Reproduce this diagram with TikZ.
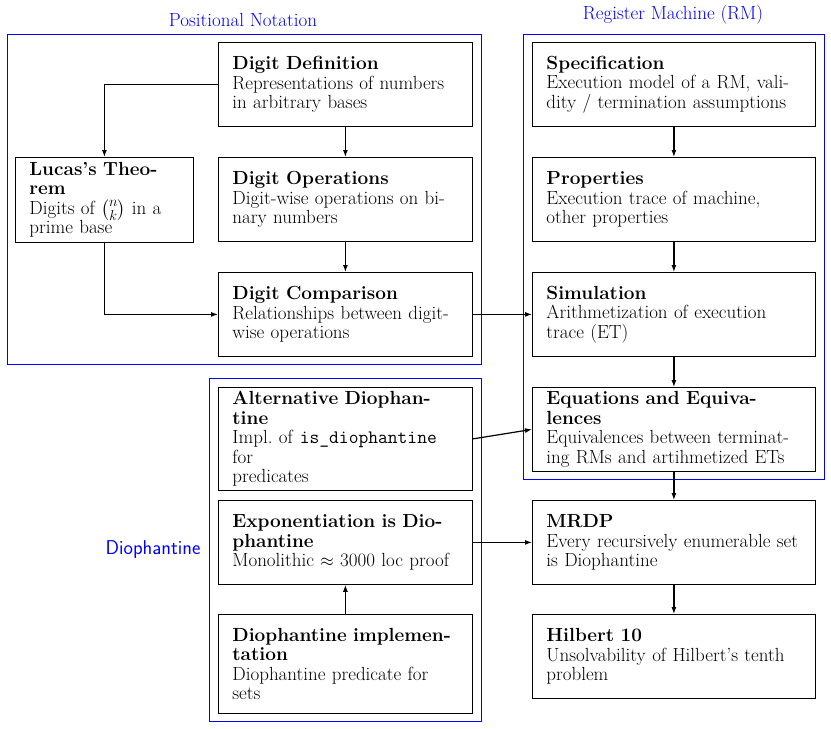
\documentclass[tikz,border=0pt]{standalone}
\usepackage{amsmath}
\usepackage{fontspec}
\usetikzlibrary{arrows.meta}
\begin{document}
\begin{tikzpicture}[x=1pt,y=-1pt,
  bx/.style={draw,line width=0.8pt,rectangle,anchor=north west,inner xsep=14pt,inner ysep=4pt,
    minimum height=84pt,text width=226pt,align=left,font=\fontsize{19}{19.5}\selectfont},
  fr/.style={draw=blue,line width=0.8pt},
  ttl/.style={text=blue,font=\fontsize{19}{20}\selectfont},
  ar/.style={line width=1.2pt,-{Latex[length=7pt,width=5pt]}}]
\useasboundingbox (0,0) rectangle (831,729);
\draw[fr] (7,34) rectangle (481,364);
\draw[fr] (523,34) rectangle (824,479);
\draw[fr] (209,378) rectangle (481,721);
\node[ttl] (t1) at (243,20) {Positional Notation};
\node[ttl] (t2) at (673,15) {Register Machine (RM)};
\node[ttl,font=\sffamily\fontsize{20}{20}\selectfont] (t3) at (153,550) {Diophantine};

\node[bx] (def) at (218,42) {\textbf{Digit Definition}\\Representations of numbers\\in arbitrary bases};
\node[bx] (ops) at (218,157) {\textbf{Digit Operations}\\Digit-wise operations on bi-\\nary numbers};
\node[bx] (cmp) at (218,272) {\textbf{Digit Comparison}\\Relationships between digit-\\wise operations};
\node[bx,text width=150pt,minimum height=85pt] (luc) at (15,157) {\textbf{Lucas's Theorem}\\Digits of $\binom{n}{k}$ in a\\prime base};

\node[bx,text width=255pt] (spec) at (532,42) {\textbf{Specification}\\Execution model of a RM, vali-\\dity / termination assumptions};
\node[bx,text width=255pt] (prop) at (532,157) {\textbf{Properties}\\Execution trace of machine,\\other properties};
\node[bx,text width=255pt] (sim) at (532,272) {\textbf{Simulation}\\Arithmetization of execution\\trace (ET)};
\node[bx,text width=255pt] (eq) at (532,387) {\textbf{Equations and Equivalences}\\Equivalences between terminat-\\ing RMs and artihmetized ETs};
\node[bx,text width=255pt] (mrdp) at (532,500) {\textbf{MRDP}\\Every recursively enumerable set\\is Diophantine};
\node[bx,text width=255pt] (hil) at (532,614) {\textbf{Hilbert 10}\\Unsolvability of Hilbert's tenth\\problem};

\node[bx] (alt) at (218,387) {\textbf{Alternative Diophantine}\\Impl.\ of \texttt{is\_diophantine} for\\predicates};
\node[bx] (exp) at (218,500) {\textbf{Exponentiation is Dio-}\\\textbf{phantine}\\Monolithic $\approx$ 3000 loc proof};
\node[bx,minimum height=99pt] (imp) at (218,614) {\textbf{Diophantine implemen-}\\\textbf{tation}\\Diophantine predicate for\\sets};

\draw[ar] (def) -- (ops);
\draw[ar] (ops) -- (cmp);
\draw[ar] (def.west) -| (luc.north);
\draw[ar] (luc.south) |- (cmp.west);
\draw[ar] (cmp.east) -- (sim.west);
\draw[ar] (spec) -- (prop);
\draw[ar] (prop) -- (sim);
\draw[ar] (sim) -- (eq);
\draw[ar] (eq) -- (mrdp);
\draw[ar] (mrdp) -- (hil);
\draw[ar] (alt.east) -- (eq.west);
\draw[ar] (exp.east) -- (mrdp.west);
\draw[ar] (imp) -- (exp);
\end{tikzpicture}
\end{document}
